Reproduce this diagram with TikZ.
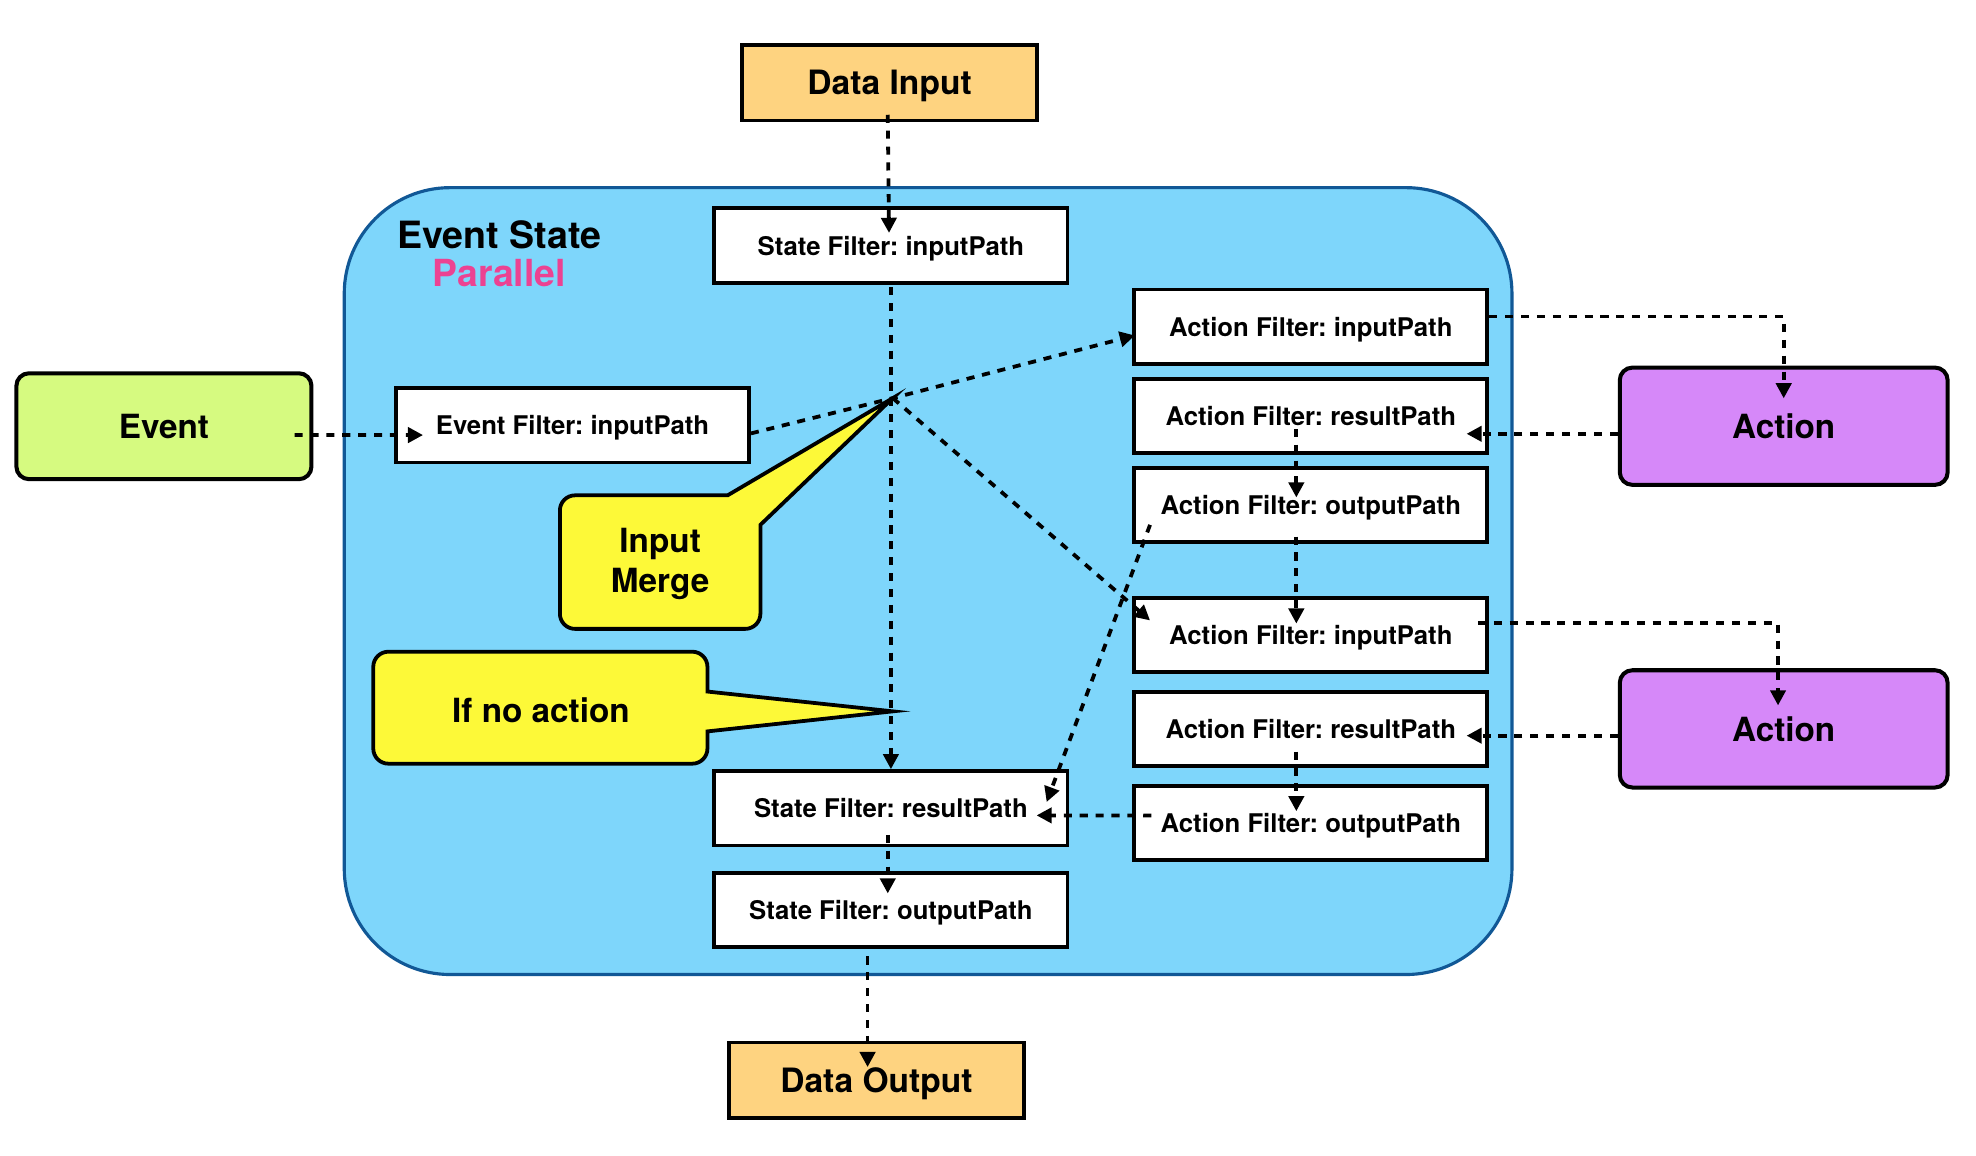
\documentclass[tikz,border=0pt]{standalone}
\usepackage{fontspec}
\setmainfont{TeX Gyre Heros}
\usepackage{tikz}
\usetikzlibrary{arrows.meta}
\frenchspacing
\definecolor{dataorange}{RGB}{254,211,128}
\definecolor{stateblue}{RGB}{126,214,251}
\definecolor{stateborder}{RGB}{17,88,150}
\definecolor{eventgreen}{RGB}{214,250,128}
\definecolor{actionpurple}{RGB}{214,136,249}
\definecolor{calloutyellow}{RGB}{253,249,56}
\definecolor{parallelpink}{RGB}{236,66,146}
\tikzstyle{filter}=[draw, fill=white, line width=1.5pt, minimum width=140pt, minimum height=29.5pt, inner sep=0pt, text depth=0pt, font=\bfseries\fontsize{10.2}{12}\selectfont]
\tikzstyle{dataio}=[draw, fill=dataorange, line width=1.5pt, minimum width=117pt, minimum height=30pt, inner sep=0pt, text depth=0pt, font=\bfseries\fontsize{13.3}{16}\selectfont]
\tikzstyle{eventbox}=[draw, fill=eventgreen, rounded corners=5pt, line width=1.6pt, minimum width=117pt, minimum height=42pt, text depth=0pt, font=\bfseries\fontsize{13.2}{16}\selectfont]
\tikzstyle{actionbox}=[draw, fill=actionpurple, rounded corners=5pt, line width=1.6pt, minimum width=130pt, minimum height=46.5pt, text depth=0pt, font=\bfseries\fontsize{13.2}{16}\selectfont]
\tikzstyle{statebox}=[draw=stateborder, fill=stateblue, rounded corners=42pt, line width=1.25pt, minimum width=463pt, minimum height=312pt]
\tikzstyle{callout}=[draw, fill=calloutyellow, line width=1.5pt]
\tikzstyle{callouttext}=[align=center, font=\bfseries\fontsize{13.2}{16}\selectfont]
\tikzstyle{flow}=[draw=black, line width=1.5pt, dash pattern=on 3.2pt off 3.1pt, >={Triangle[length=6pt,width=6pt]}]

\begin{document}
\begin{tikzpicture}[x=0.5pt, y=-0.5pt]
	\useasboundingbox (0,0) rectangle (1567,916.7);
	\begin{scope}
		\node (est) at (736,460.8)[statebox] {};
		\node (esttitle) at (396,186)[text depth=0pt, font=\bfseries\fontsize{14.9}{18}\selectfont] {Event State};
		\node (estkind) at (396,216.3)[text depth=0pt, font=\bfseries\fontsize{14.8}{18}\selectfont, text=parallelpink] {Parallel};
	\end{scope}
	\begin{scope}
		\node (din) at (705.5,65.5)[dataio] {Data Input};
		\node (dout) at (695,856.7)[dataio] {Data Output};
		\node (ev) at (130,338)[eventbox] {Event};
		\node (efin) at (454,337.3)[filter] {Event Filter: inputPath};
		\node (sfin) at (706.5,194.7)[filter] {State Filter: inputPath};
		\node (sfres) at (706.5,641)[filter] {State Filter: resultPath};
		\node (sfout) at (706.5,721.5)[filter] {State Filter: outputPath};
		\node (afin1) at (1039.5,259)[filter] {Action Filter: inputPath};
		\node (afres1) at (1039.5,330)[filter] {Action Filter: resultPath};
		\node (afout1) at (1039.5,400.5)[filter] {Action Filter: outputPath};
		\node (afin2) at (1039.5,503.5)[filter] {Action Filter: inputPath};
		\node (afres2) at (1039.5,578)[filter] {Action Filter: resultPath};
		\node (afout2) at (1039.5,652.7)[filter] {Action Filter: outputPath};
		\node (act1) at (1414.5,338)[actionbox] {Action};
		\node (act2) at (1414.5,578)[actionbox] {Action};
	\end{scope}
	% callouts
	\coordinate (mrg) at (708,315.7);
	\coordinate (noact) at (708,564.1);
	\draw[callout] (mrg) -- (577,392.8) [rounded corners=6] -- (444,392.8) -- (444,498.7) -- (603,498.7) [sharp corners] -- (603,416.2) -- cycle;
	\node (mergetxt) at (523.5,447)[callouttext] {Input\\Merge};
	\draw[callout] (noact) -- (561,580) [rounded corners=6] -- (561,605.6) -- (296,605.6) -- (296,516.8) -- (561,516.8) [sharp corners] -- (561,548.4) -- cycle;
	\node (noacttxt) at (429,563)[callouttext] {If no action};
	\begin{scope}
		\draw [flow, ->] ([shift={(-1.5,-6)}]din.south) -- ([shift={(-1.5,21)}]sfin.north);
		\draw [flow, ->] ([shift={(0,2)}]sfin.south) -- (sfres.north);
		\draw [flow, ->] ([shift={(-15,7)}]ev.east) -- ([shift={(23,7.7)}]efin.west);
		\draw [flow, ->] ([shift={(0,6.4)}]efin.east) -- (mrg) -- ([shift={(2,7)}]afin1.west);
		\draw [flow, ->] (mrg) -- ([shift={(14,-11.5)}]afin2.west);
		\draw [flow, ->] ([shift={(0,-8)}]afin1.east) -| ([shift={(0,26)}]act1.north);
		\draw [flow, ->] ([shift={(-9,-9.5)}]afin2.east) -| ([shift={(-4.5,29.5)}]act2.north);
		\draw [flow, ->] ([shift={(0,6)}]act1.west) -- ([shift={(-18,14)}]afres1.east);
		\draw [flow, ->] ([shift={(0,5.4)}]act2.west) -- ([shift={(-18,5.4)}]afres2.east);
		\draw [flow, ->] ([shift={(-11.5,10)}]afres1.center) -- ([shift={(-11.5,25)}]afout1.north);
		\draw [flow, ->] ([shift={(-11.5,-6)}]afout1.south) -- ([shift={(-11.5,22)}]afin2.north);
		\draw [flow, ->] ([shift={(-11.5,18)}]afres2.center) -- ([shift={(-11.5,21.6)}]afout2.north);
		\draw [flow, ->] ([shift={(14,15.7)}]afout1.west) -- ([shift={(-18,-5)}]sfres.east);
		\draw [flow, ->] ([shift={(15,-6)}]afout2.west) -- ([shift={(-26,5.6)}]sfres.east);
		\draw [flow, ->] ([shift={(-2.5,-10)}]sfres.south) -- ([shift={(-2.5,18)}]sfout.north);
		\draw [flow, ->] ([shift={(-18.5,6)}]sfout.south) -- ([shift={(-7,21)}]dout.north);
	\end{scope}
\end{tikzpicture}
\end{document}
